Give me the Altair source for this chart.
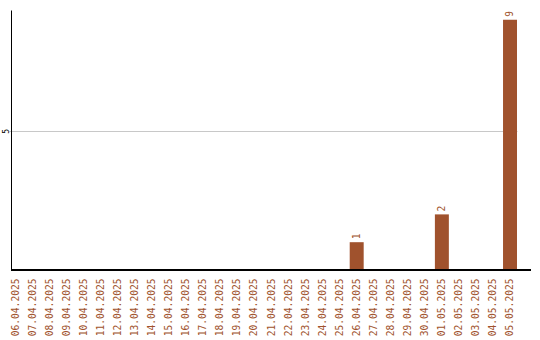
import altair as alt
import pandas as pd

# Daily counts, 06.04.2025 – 05.05.2025
dates = [
    "06.04.2025", "07.04.2025", "08.04.2025", "09.04.2025", "10.04.2025",
    "11.04.2025", "12.04.2025", "13.04.2025", "14.04.2025", "15.04.2025",
    "16.04.2025", "17.04.2025", "18.04.2025", "19.04.2025", "20.04.2025",
    "21.04.2025", "22.04.2025", "23.04.2025", "24.04.2025", "25.04.2025",
    "26.04.2025", "27.04.2025", "28.04.2025", "29.04.2025", "30.04.2025",
    "01.05.2025", "02.05.2025", "03.05.2025", "04.05.2025", "05.05.2025",
]
counts = [
    0, 0, 0, 0, 0,
    0, 0, 0, 0, 0,
    0, 0, 0, 0, 0,
    0, 0, 0, 0, 0,
    1, 0, 0, 0, 0,
    2, 0, 0, 0, 9,
]
y_ticks = [5]

df = pd.DataFrame({"date": dates, "count": counts})

BAR = "#A0522D"
MONO = "DejaVu Sans Mono"
W, H = 520, 260

x_enc = alt.X(
    "date:N",
    sort=dates,
    scale=alt.Scale(range=[-2, 506], paddingInner=0.18, paddingOuter=0),
    axis=alt.Axis(
        title=None, labelAngle=270, domain=False, ticks=False,
        labelFont=MONO, labelFontSize=9.6, labelColor=BAR,
        labelPadding=8, grid=False,
    ),
)
y_enc = alt.Y(
    "count:Q",
    scale=alt.Scale(domain=[0, 9.35], nice=False, zero=True),
    axis=alt.Axis(
        title=None, values=y_ticks, labelAngle=270, ticks=False,
        domain=True, domainColor="black", domainWidth=1,
        grid=True, gridColor="#c8c8c8", gridWidth=1,
        labelFont=MONO, labelFontSize=8, labelColor="black", labelPadding=1,
    ),
)

bars = alt.Chart(df).mark_bar(color=BAR).encode(x=x_enc, y=y_enc)

labels = (
    alt.Chart(df)
    .transform_filter("datum.count > 0")
    .mark_text(angle=270, align="left", baseline="middle", dx=3,
               font=MONO, fontSize=9.6, color=BAR)
    .encode(x=alt.X("date:N", sort=dates), y="count:Q", text="count:Q")
)

x_line = alt.Chart(df).mark_rule(color="black", strokeWidth=1).encode(
    x=alt.value(0), x2=alt.value(W), y=alt.value(H)
)

chart = (
    alt.layer(bars, labels, x_line)
    .properties(
        width=W, height=H,
        autosize=alt.AutoSizeParams(type="none"),
        padding={"left": 11, "top": 10, "right": 9, "bottom": 70},
    )
    .configure_view(stroke=None)
)

chart.save("out.html", embed_options={"renderer": "svg", "actions": False})
